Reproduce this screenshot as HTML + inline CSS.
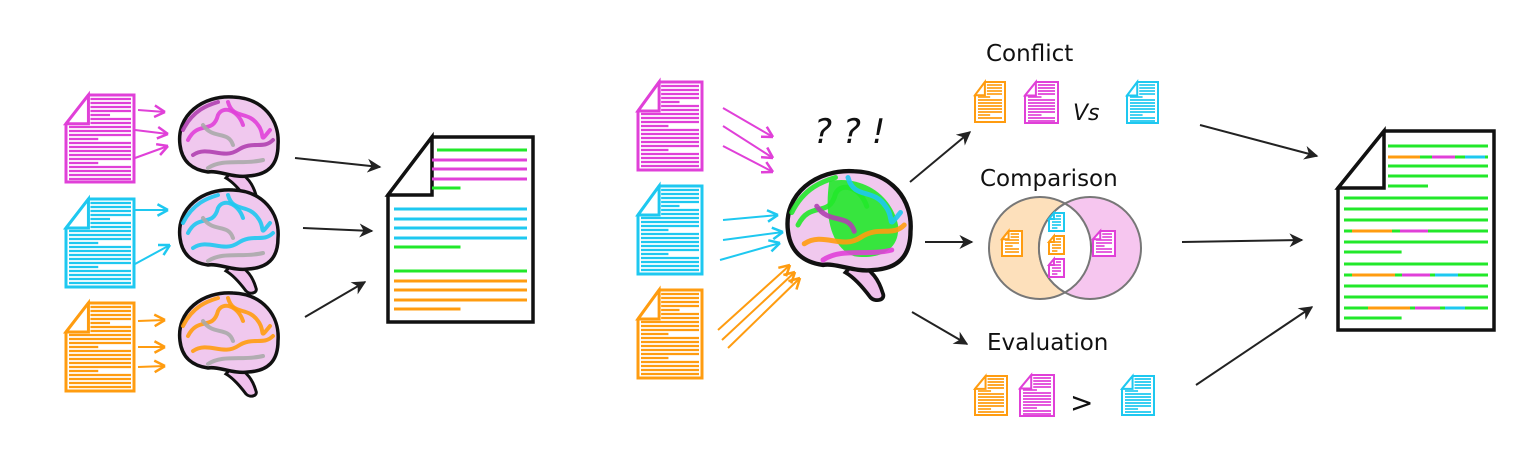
<!DOCTYPE html>
<html><head><meta charset="utf-8"><style>
html,body{margin:0;padding:0;background:#fff;}
svg{display:block;}
text{font-family:"DejaVu Sans","Liberation Sans",sans-serif;}
</style></head><body>
<svg id="s" width="1520" height="462" viewBox="0 0 1520 462" xmlns="http://www.w3.org/2000/svg">
<defs>
<marker id="ah" viewBox="0 0 10 10" refX="9" refY="5" markerWidth="7" markerHeight="7" orient="auto"><path d="M0,0 L10,5 L0,10 L3,5 Z" fill="#222"/></marker>
</defs>
<text x="986" y="61" font-size="23" fill="#111">Conflict</text>
<text x="980" y="186" font-size="23" fill="#111">Comparison</text>
<text x="987" y="350" font-size="23" fill="#111">Evaluation</text>
<text x="814" y="143" font-size="34" font-style="italic" fill="#111" font-family="Liberation Serif, serif">? ? !</text>
<text x="1073" y="120" font-size="22" font-style="italic" fill="#111">Vs</text>
<text x="1070" y="412" font-size="28" fill="#111">&gt;</text>
<circle cx="1040" cy="248" r="51" fill="#fde0bb" stroke="#777" stroke-width="2"/>
<circle cx="1090" cy="248" r="51" fill="#f6c6ef" stroke="#777" stroke-width="2"/>
<path d="M1065,203.5 A51,51 0 0 0 1065,292.5 A51,51 0 0 0 1065,203.5Z" fill="#fff" stroke="#777" stroke-width="2"/>
<g id="g"></g>
</svg>
<script>
const M='#e040d8',C='#1ec8f0',O='#ff9c10',G='#22e82a';
const NS='http://www.w3.org/2000/svg';
const g=document.getElementById('g');
function el(t,a,p){const e=document.createElementNS(NS,t);for(const k in a)e.setAttribute(k,a[k]);(p||g).appendChild(e);return e;}
function doc(x,y,w,h,col,sw,step,name){
  const gr=el('g',{});
  
  
  const fw=w*0.33,fh=h*0.33;
  el('path',{d:`M${x+fw},${y}L${x+w},${y}L${x+w},${y+h}L${x},${y+h}L${x},${y+fh}Z`,fill:'#fff',stroke:col,'stroke-width':sw},gr);
  let i=0;
  for(let yy=y+step;yy<y+h-step/2;yy+=step,i++){
    const x0=yy<y+fh?x+fw+2:x+3;
    const short=(i%6==4);
    el('line',{x1:x0,y1:yy,x2:short?x0+(x+w-x0)*0.45:x+w-3,y2:yy,stroke:col,'stroke-width':step*0.55},gr);
  }
  el('path',{d:`M${x},${y+fh}L${x+fw},${y+fh}L${x+fw},${y}Z`,fill:'#fff',stroke:col,'stroke-width':sw,'stroke-linejoin':'miter'},gr);
  return gr;
}
function arrow(x1,y1,x2,y2,col,w,name){
  const a=el('line',{x1,y1,x2,y2,stroke:col,'stroke-width':w,'marker-end':'url(#ah)'});
  
  
}
function colArrow(x1,y1,x2,y2,col,name){
  const ang=Math.atan2(y2-y1,x2-x1),L=12;
  const gr=el('g',{});
  
  
  el('line',{x1,y1,x2,y2,stroke:col,'stroke-width':2},gr);
  for(const s of [-0.5,0.5])el('line',{x1:x2,y1:y2,x2:x2-L*Math.cos(ang+s),y2:y2-L*Math.sin(ang+s),stroke:col,'stroke-width':2.5},gr);
}
function brain(cx,cy,s,cols,name,bg){
  const gr=el('g',{transform:`translate(${cx},${cy}) scale(${s})`});
  
  
  el('path',{d:'M5,30 C20,35 25,45 28,55 C30,60 22,62 18,58 C12,50 5,42 -2,38Z',fill:'#f0c0ec',stroke:'#111','stroke-width':3},gr);
  el('path',{d:'M-48,5 C-52,-25 -25,-45 5,-43 C35,-42 52,-20 50,5 C50,25 40,35 20,36 C5,38 -10,30 -20,32 C-35,30 -46,22 -48,5Z',fill:'#f0c8ee',stroke:'#111','stroke-width':3.5},gr);
  if(bg)el('path',{d:'M-15,-35 C10,-40 35,-25 40,0 C42,20 25,28 5,25 C-10,20 -20,0 -15,-35Z',fill:bg,opacity:0.9},gr);
  const sq=['M-40,0 C-30,-20 -15,-5 -10,-25 C-5,-35 10,-30 15,-15','M-35,15 C-20,5 -5,20 10,10 C25,0 35,10 45,0','M-20,28 C-5,18 15,25 35,20','M0,-38 C5,-20 20,-30 30,-15 C38,-5 30,5 42,-10','M-45,-10 C-35,-30 -20,-35 -10,-38','M-25,-15 C-15,0 0,-10 5,5'];
  sq.forEach((d,i)=>el('path',{d,fill:'none',stroke:cols[i%cols.length],'stroke-width':4,'stroke-linecap':'round',opacity:0.9},gr));
}
doc(66,95,68,87,M,3,4,'source-doc-magenta');
doc(66,199,68,88,C,3,4,'source-doc-cyan');
doc(66,303,68,88,O,3,4,'source-doc-orange');
[[138,110,165,112],[135,130,168,134],[135,158,168,146]].forEach((a,i)=>colArrow(...a,M,'arrow-magenta-'+i));
[[135,210,168,210],[135,264,170,245]].forEach((a,i)=>colArrow(...a,C,'arrow-cyan-'+i));
[[138,321,165,320],[138,347,165,347],[138,367,165,366]].forEach((a,i)=>colArrow(...a,O,'arrow-orange-'+i));
brain(228,140,1,[M,'#b040b0','#aaa'],'brain-magenta');
brain(228,233,1,[C,C,'#aaa'],'brain-cyan');
brain(228,336,1,[O,O,'#aaa'],'brain-orange');
arrow(295,158,380,167,'#222',2,'arrow-left-1');
arrow(303,228,372,231,'#222',2,'arrow-left-2');
arrow(305,317,365,282,'#222',2,'arrow-left-3');
(function(){
  const gr=el('g',{});
  
  
  el('path',{d:`M432,137L533,137L533,322L388,322L388,195Z`,fill:'#fff',stroke:'#111','stroke-width':3.5},gr);
  el('path',{d:`M388,195L432,195L432,137Z`,fill:'#fff',stroke:'#111','stroke-width':3.5},gr);
  const L=[[437,150,G,1],[432,160,M,1],[432,169,M,1],[432,179,M,1],[432,188,G,0.3],[394,209,C,1],[394,219,C,1],[394,228,C,1],[394,238,C,1],[394,247,G,0.5],[394,271,G,1],[394,281,O,1],[394,290,O,1],[394,300,O,1],[394,309,O,0.5]];
  L.forEach(l=>el('line',{x1:l[0],y1:l[1],x2:l[0]+(527-l[0])*l[3],y2:l[1],stroke:l[2],'stroke-width':3},gr));
})();
doc(638,82,64,88,M,3,4,'middle-doc-magenta');
doc(638,186,64,88,C,3,4,'middle-doc-cyan');
doc(638,290,64,88,O,3,4,'middle-doc-orange');
[[723,108,773,137],[723,126,773,158],[723,146,773,172]].forEach((a,i)=>colArrow(...a,M,'mid-arrow-magenta-'+i));
[[723,220,778,215],[723,240,783,232],[720,260,780,243]].forEach((a,i)=>colArrow(...a,C,'mid-arrow-cyan-'+i));
[[718,330,790,265],[722,340,795,272],[728,348,800,278]].forEach((a,i)=>colArrow(...a,O,'mid-arrow-orange-'+i));
brain(848,225,1.25,[G,O,M,C,G,'#b040b0'],'brain-combined',G);
arrow(910,182,970,132,'#222',2,'arrow-to-conflict');
arrow(925,242,972,242,'#222',2,'arrow-to-comparison');
arrow(912,312,967,344,'#222',2,'arrow-to-evaluation');
doc(975,82,30,40,O,2,3,'conflict-doc-orange');
doc(1025,82,33,41,M,2,3,'conflict-doc-magenta');
doc(1127,82,31,41,C,2,3,'conflict-doc-cyan');
doc(1002,231,20,25,O,2,3,'venn-doc-orange');
doc(1093,231,22,25,M,2,3,'venn-doc-magenta');
doc(1049,213,15,18,C,2,3,'venn-doc-cyan');
doc(1049,236,15,18,O,2,3,'venn-doc-orange-shared');
doc(1049,259,15,18,M,2,3,'venn-doc-magenta-shared');
doc(975,376,32,39,O,2,3,'eval-doc-orange');
doc(1020,375,34,41,M,2,3,'eval-doc-magenta');
doc(1122,376,32,39,C,2,3,'eval-doc-cyan');
arrow(1200,125,1317,156,'#222',2,'arrow-right-1');
arrow(1182,242,1302,240,'#222',2,'arrow-right-2');
arrow(1196,385,1312,307,'#222',2,'arrow-right-3');
(function(){
  const gr=el('g',{});
  
  
  el('path',{d:`M1384,131L1494,131L1494,330L1338,330L1338,188Z`,fill:'#fff',stroke:'#111','stroke-width':3.5},gr);
  el('path',{d:`M1338,188L1384,188L1384,131Z`,fill:'#fff',stroke:'#111','stroke-width':3.5},gr);
  const ys=[146,157,166,176,186,198,209,220,231,242,252,264,275,286,297,308,318];
  ys.forEach((yy,i)=>{
    const x0=yy<188?1388:1344;
    const part=(i==4||i==10||i==16)?0.4:1;
    el('line',{x1:x0,y1:yy,x2:x0+(1488-x0)*part,y2:yy,stroke:G,'stroke-width':3},gr);
  });
  [[1388,157,1420,O],[1432,157,1455,M],[1465,157,1485,C],[1352,231,1392,O],[1400,231,1428,M],[1352,275,1395,O],[1402,275,1430,M],[1435,275,1458,C],[1368,308,1410,O],[1415,308,1440,M],[1445,308,1465,C]].forEach(s=>el('line',{x1:s[0],y1:s[1],x2:s[2],y2:s[1],stroke:s[3],'stroke-width':3},gr));
})();
</script>
</body></html>
